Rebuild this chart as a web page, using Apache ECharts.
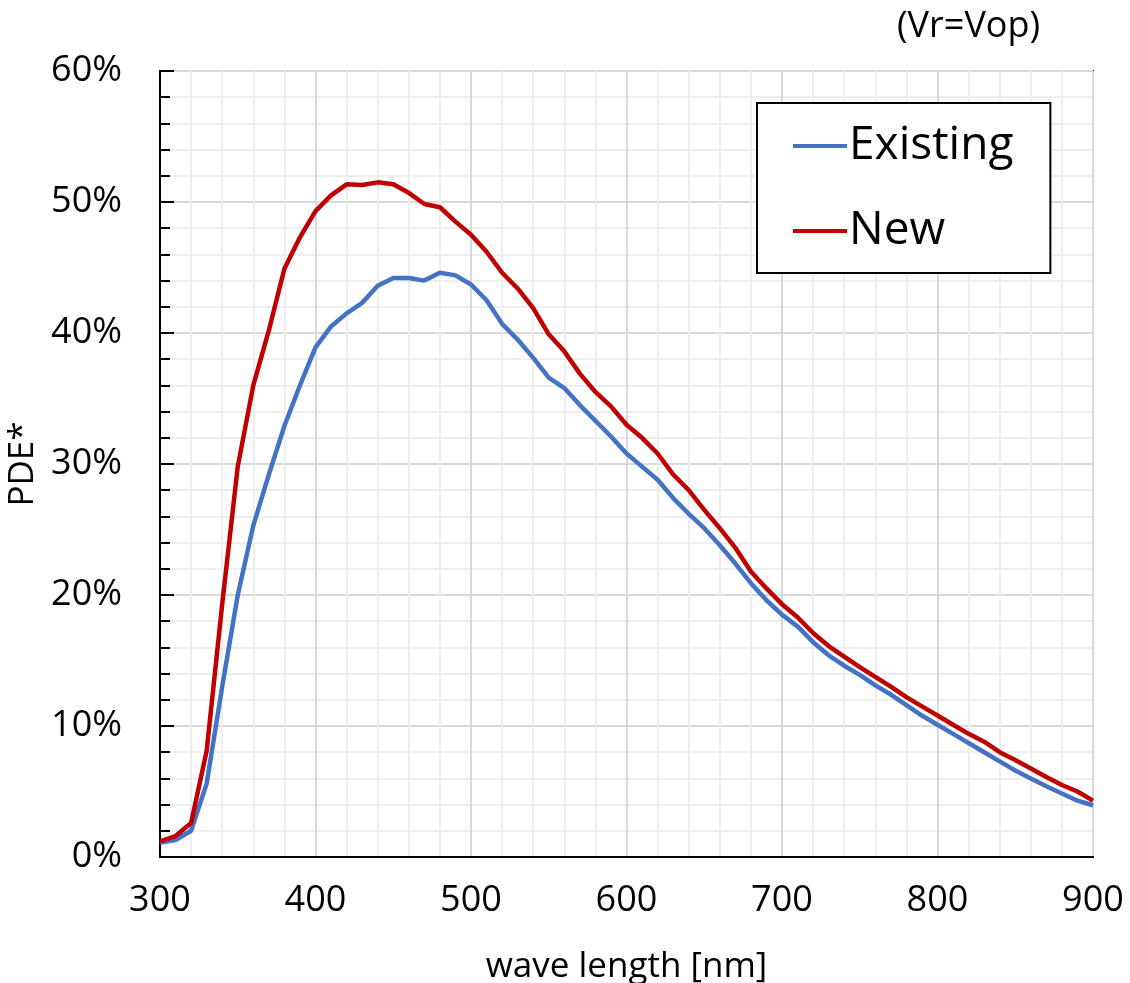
<!DOCTYPE html>
<html>
<head>
<meta charset="utf-8">
<script src="https://cdn.jsdelivr.net/npm/echarts@6/dist/echarts.min.js"></script>
<style>html,body{margin:0;padding:0;background:#fff}#c{width:1130px;height:983px}</style>
</head>
<body>
<div id="c"></div>
<script>
var wavelengths = [300,310,320,330,340,350,360,370,380,390,400,410,420,430,440,450,460,470,480,490,500,510,520,530,540,550,560,570,580,590,600,610,620,630,640,650,660,670,680,690,700,710,720,730,740,750,760,770,780,790,800,810,820,830,840,850,860,870,880,890,900];
var existing = [1.1,1.3,2.0,5.6,13.0,20.0,25.3,29.2,32.9,36.0,38.9,40.5,41.5,42.3,43.6,44.2,44.2,44.0,44.6,44.4,43.7,42.5,40.7,39.5,38.1,36.6,35.8,34.5,33.3,32.1,30.8,29.8,28.8,27.4,26.2,25.1,23.8,22.4,20.9,19.6,18.5,17.6,16.4,15.4,14.6,13.9,13.1,12.4,11.6,10.8,10.1,9.4,8.7,8.0,7.3,6.6,6.0,5.4,4.85,4.3,3.95];
var newer = [1.2,1.6,2.6,8.1,19.3,29.8,36.0,40.2,44.9,47.3,49.3,50.5,51.35,51.3,51.5,51.35,50.7,49.85,49.6,48.5,47.5,46.2,44.6,43.4,41.9,39.9,38.6,36.9,35.5,34.4,33.0,32.0,30.8,29.2,28.0,26.5,25.1,23.6,21.8,20.5,19.3,18.3,17.1,16.1,15.3,14.5,13.75,13.0,12.2,11.5,10.8,10.1,9.4,8.8,8.0,7.4,6.75,6.1,5.5,5.0,4.3];
var seriesNames = ['Existing','New'];
var xAxisName = 'wave length [nm]';
var yAxisName = 'PDE*';
var noteText = '(Vr=Vop)';

function pairs(ys){ return wavelengths.map(function(x,i){ return [x, ys[i]]; }); }
var FONT = '"Open Sans", sans-serif';
var chart = echarts.init(document.getElementById('c'), null, {renderer:'canvas'});
chart.setOption({
  animation:false,
  backgroundColor:'#fff',
  title:{ text: noteText, left: 892, top: 4, textStyle:{ fontFamily:FONT, fontSize:36, fontWeight:'normal', color:'#000' } },
  grid:{ left:160, right:37, top:71, bottom:126, show:true, borderColor:'#000', borderWidth:2, backgroundColor:'transparent', containLabel:false, outerBoundsMode:'none' },
  legend:{
    orient:'vertical', left:757, top:103,
    backgroundColor:'#fff', borderColor:'#000', borderWidth:2,
    padding:[18,37,17,36], itemGap:35, itemWidth:54, itemHeight:4, icon:'rect',
    textStyle:{ fontFamily:FONT, fontSize:46, color:'#000', lineHeight:50, padding:[0,0,0,-3] },
    data: seriesNames
  },
  xAxis:{
    type:'value', min:300, max:900, interval:100,
    name: xAxisName, nameLocation:'middle', nameGap:93,
    nameTextStyle:{ fontFamily:FONT, fontSize:35, color:'#000' },
    axisLine:{ show:true, onZero:false, lineStyle:{ color:'#000', width:2 } },
    axisTick:{ show:false },
    axisLabel:{ fontFamily:FONT, fontSize:36, color:'#000', margin:26 },
    splitLine:{ show:true, lineStyle:{ color:'#d9d9d9', width:2 } },
    minorTick:{ show:false, splitNumber:5 },
    minorSplitLine:{ show:true, lineStyle:{ color:'#eeeeee', width:2 } }
  },
  yAxis:{
    type:'value', min:0, max:60, interval:10,
    name: yAxisName, nameLocation:'middle', nameGap:112, nameRotate:90,
    nameTextStyle:{ fontFamily:FONT, fontSize:35, color:'#000' },
    axisLine:{ show:true, lineStyle:{ color:'#000', width:2 } },
    axisTick:{ show:true, inside:true, length:14, lineStyle:{ color:'#000', width:2 } },
    minorTick:{ show:true, splitNumber:5, length:10, lineStyle:{ color:'#000', width:2 } },
    axisLabel:{ fontFamily:FONT, fontSize:36, color:'#000', margin:38, formatter:'{value}%' },
    splitLine:{ show:true, lineStyle:{ color:'#d9d9d9', width:2 } },
    minorSplitLine:{ show:true, lineStyle:{ color:'#eeeeee', width:2 } }
  },
  series:[
    { name:seriesNames[0], type:'line', data:pairs(existing), symbol:'none', smooth:false, color:'#4472C4', lineStyle:{ color:'#4472C4', width:4.5 } },
    { name:seriesNames[1], type:'line', data:pairs(newer), symbol:'none', smooth:false, color:'#C00000', lineStyle:{ color:'#C00000', width:4.5 } }
  ]
});
</script>
</body>
</html>
